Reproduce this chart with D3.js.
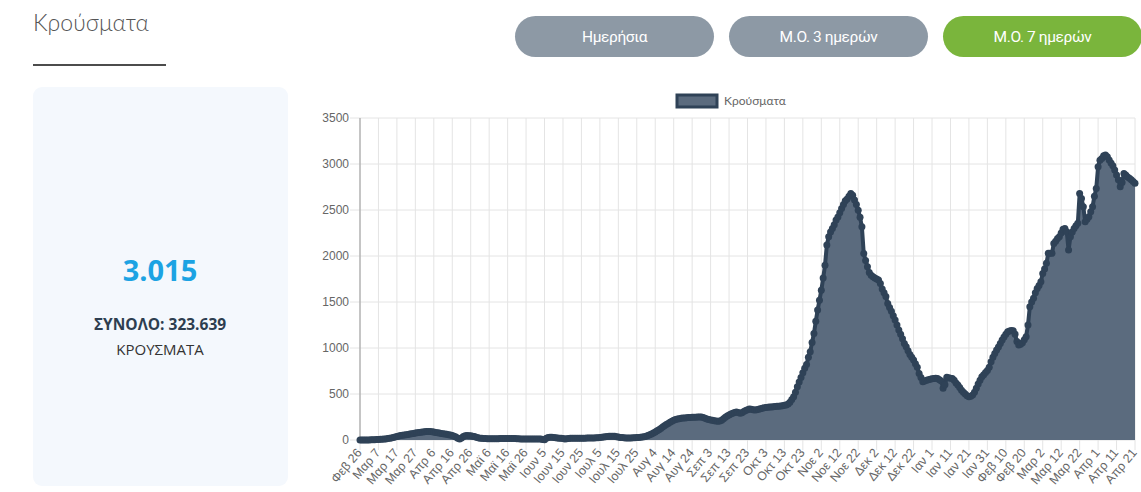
<!DOCTYPE html>
<html>
<head>
<meta charset="utf-8">
<script src="https://cdn.jsdelivr.net/npm/d3@7"></script>
<style>
  body { margin: 0; background: #fff; }
  svg { display: block; }
</style>
</head>
<body>
<div id="chart"></div>
<script>
// 7-day moving average of daily cases, one value per day from 2020-02-26
var startDate = new Date(2020, 1, 26);
var cases = [
  0,0,1,1,1,1,2,3,4,5,
  6,7,8,10,12,15,18,22,27,32,
  38,43,48,52,55,58,60,64,68,72,
  76,79,82,85,88,90,92,93,92,90,
  86,82,78,75,72,68,65,62,58,54,
  48,42,32,20,12,22,38,46,48,47,
  45,42,38,30,24,20,18,16,15,14,
  14,14,13,13,14,14,15,15,16,16,
  17,17,16,16,15,14,13,12,11,11,
  10,10,10,11,11,12,12,12,11,6,
  4,20,28,30,30,28,24,22,20,18,
  15,12,14,17,18,19,20,20,19,19,
  19,20,20,21,21,22,22,23,24,25,
  27,30,33,36,38,40,42,42,40,36,
  32,28,26,24,23,22,22,23,24,25,
  26,28,30,32,36,42,50,58,66,76,
  88,100,112,126,140,154,168,180,192,204,
  214,222,228,232,236,238,240,242,244,245,
  246,247,248,249,250,249,244,236,228,222,
  218,214,210,206,204,206,214,230,248,262,
  272,282,292,300,304,300,292,296,310,322,
  330,336,334,330,326,328,334,340,346,350,
  352,355,358,360,362,364,366,368,370,372,
  378,380,390,410,440,470,520,580,630,680,
  730,780,820,900,960,1060,1158,1290,1412,1520,
  1629,1760,1900,2120,2210,2260,2300,2340,2390,2425,
  2470,2516,2560,2600,2620,2650,2679,2660,2610,2560,
  2498,2420,2317,2027,1950,1882,1820,1790,1774,1760,
  1750,1738,1700,1640,1600,1560,1484,1440,1400,1350,
  1303,1250,1195,1150,1100,1050,1014,970,930,900,
  869,830,790,724,680,634,640,650,655,659,
  665,668,670,668,655,640,562,600,681,676,
  670,668,650,620,598,570,540,520,500,480,
  471,475,489,520,562,610,650,688,710,735,
  755,790,851,900,940,978,1010,1050,1087,1120,
  1150,1177,1185,1190,1188,1150,1070,1032,1040,1058,
  1090,1123,1250,1449,1500,1540,1600,1648,1680,1721,
  1811,1860,1920,2029,2030,2029,2137,2160,2190,2210,
  2250,2290,2300,2264,2065,2210,2260,2300,2330,2355,
  2680,2626,2536,2373,2400,2427,2480,2536,2650,2735,
  2970,3040,3061,3090,3097,3080,3043,3010,2980,2934,
  2880,2830,2753,2800,2898,2880,2860,2844,2830,2810,
  2790
];
var monthNames = ["Ιαν","Φεβ","Μαρ","Απρ","Μαϊ","Ιουν","Ιουλ","Αυγ","Σεπ","Οκτ","Νοε","Δεκ"];
var yTicks = [0, 500, 1000, 1500, 2000, 2500, 3000, 3500];
var tickEvery = 10;
var buttons = ["Ημερήσια", "Μ.Ο. 3 ημερών", "Μ.Ο. 7 ημερών"];
var activeButton = 2;
var todayValue = "3.015";
var totalLabel = "ΣΥΝΟΛΟ: 323.639";
var unitLabel = "ΚΡΟΥΣΜΑΤΑ";
var title = "Κρούσματα";
var seriesName = "Κρούσματα";

var data = cases.map(function(v, i) {
  return {date: d3.timeDay.offset(startDate, i), value: v};
});

var svg = d3.select("#chart").append("svg")
  .attr("width", 1141)
  .attr("height", 492);

// header
svg.append("text")
  .attr("x", 33).attr("y", 31)
  .attr("font-family", "Lato, sans-serif")
  .attr("font-weight", 300)
  .attr("font-size", 23)
  .attr("fill", "#555")
  .text(title);
svg.append("line")
  .attr("x1", 33).attr("x2", 166)
  .attr("y1", 65).attr("y2", 65)
  .attr("stroke", "#111").attr("stroke-width", 1.5);

// buttons
var btn = svg.selectAll(".btn").data(buttons).enter()
  .append("g").attr("class", "btn")
  .attr("transform", function(d, i) { return "translate(" + (515 + i * 214) + ",16)"; });
btn.append("rect")
  .attr("width", 199).attr("height", 41).attr("rx", 20.5)
  .attr("fill", function(d, i) { return i === activeButton ? "#7ab53c" : "#8d99a5"; });
btn.append("text")
  .attr("x", 99.5).attr("y", 26)
  .attr("text-anchor", "middle")
  .attr("font-family", "Roboto, sans-serif")
  .attr("font-size", 15.5)
  .attr("letter-spacing", -0.4)
  .attr("fill", "#fff")
  .text(function(d) { return d; });

// side panel
svg.append("rect")
  .attr("x", 33).attr("y", 87).attr("width", 255).attr("height", 399)
  .attr("rx", 9).attr("fill", "#f4f8fd");
svg.append("text")
  .attr("x", 160).attr("y", 281)
  .attr("text-anchor", "middle")
  .attr("font-family", "'Open Sans', sans-serif")
  .attr("font-weight", 700).attr("font-size", 29)
  .attr("fill", "#1ca3e3")
  .text(todayValue);
svg.append("text")
  .attr("x", 160).attr("y", 330)
  .attr("text-anchor", "middle")
  .attr("font-family", "'Open Sans', sans-serif")
  .attr("font-weight", 700).attr("font-size", 15.5)
  .attr("fill", "#2d3e50")
  .text(totalLabel);
svg.append("text")
  .attr("x", 160).attr("y", 355)
  .attr("text-anchor", "middle")
  .attr("font-family", "'Open Sans', sans-serif")
  .attr("font-size", 15)
  .attr("fill", "#333")
  .text(unitLabel);

// chart
var margin = {top: 118, left: 360},
    width = 775,
    height = 322;
var g = svg.append("g").attr("transform", "translate(" + margin.left + "," + margin.top + ")");

var x = d3.scaleTime()
  .domain([data[0].date, data[data.length - 1].date])
  .range([0, width]);
var y = d3.scaleLinear().domain([0, 3500]).range([height, 0]);

var xTickDates = d3.range(0, cases.length, tickEvery).map(function(i) { return data[i].date; });

// grid
g.selectAll(".hgrid").data(yTicks).enter().append("line")
  .attr("x1", -10).attr("x2", width)
  .attr("y1", function(d) { return y(d); }).attr("y2", function(d) { return y(d); })
  .attr("stroke", "#e4e4e4");
g.selectAll(".vgrid").data(xTickDates).enter().append("line")
  .attr("x1", function(d) { return x(d); }).attr("x2", function(d) { return x(d); })
  .attr("y1", 0).attr("y2", height + 10)
  .attr("stroke", "#e4e4e4");
g.append("line")
  .attr("x1", 0).attr("x2", 0).attr("y1", 0).attr("y2", height)
  .attr("stroke", "#999");

// axes labels
var xAxis = d3.axisBottom(x)
  .tickValues(xTickDates)
  .tickSize(0)
  .tickFormat(function(d) { return monthNames[d.getMonth()] + " " + d.getDate(); });
var gx = g.append("g")
  .attr("transform", "translate(0," + height + ")")
  .call(xAxis);
gx.select(".domain").remove();
gx.selectAll("text")
  .attr("font-family", "'Liberation Sans', Arial, sans-serif")
  .attr("font-size", 12.5)
  .attr("fill", "#666")
  .attr("text-anchor", "end")
  .attr("dy", null)
  .attr("y", 0)
  .attr("transform", "translate(2,13) rotate(-50)");

var yAxis = d3.axisLeft(y).tickValues(yTicks).tickSize(0).tickPadding(11)
  .tickFormat(d3.format("d"));
var gy = g.append("g").call(yAxis);
gy.select(".domain").remove();
gy.selectAll("text")
  .attr("font-family", "'Liberation Sans', Arial, sans-serif")
  .attr("font-size", 12)
  .attr("fill", "#666");

// area, line, points
var area = d3.area()
  .x(function(d) { return x(d.date); })
  .y0(height)
  .y1(function(d) { return y(d.value); });
var line = d3.line()
  .x(function(d) { return x(d.date); })
  .y(function(d) { return y(d.value); });

g.append("path").datum(data)
  .attr("d", area)
  .attr("fill", "#5b6b7e");
g.append("path").datum(data)
  .attr("d", line)
  .attr("fill", "none")
  .attr("stroke", "#2f4257")
  .attr("stroke-width", 4)
  .attr("stroke-linejoin", "round");
g.selectAll(".pt").data(data).enter().append("circle")
  .attr("cx", function(d) { return x(d.date); })
  .attr("cy", function(d) { return y(d.value); })
  .attr("r", 3.5)
  .attr("fill", "#2f4257");

// legend
svg.append("rect")
  .attr("x", 677).attr("y", 95).attr("width", 40).attr("height", 12)
  .attr("fill", "#5b6b7e").attr("stroke", "#2f4257").attr("stroke-width", 3);
svg.append("text")
  .attr("x", 724).attr("y", 105)
  .attr("font-family", "Lato, sans-serif")
  .attr("font-size", 12)
  .attr("fill", "#666")
  .text(seriesName);
</script>
</body>
</html>
